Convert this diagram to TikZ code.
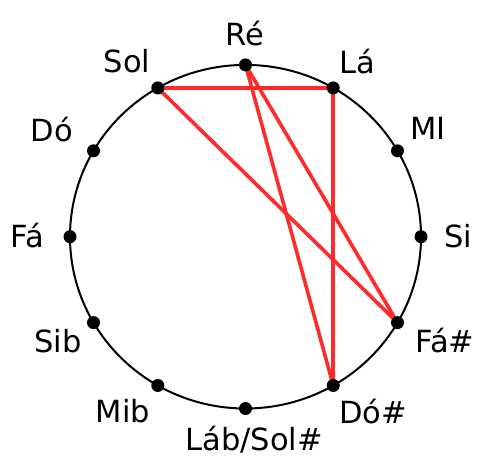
\documentclass[tikz,border=0pt]{standalone}
\usepackage{fontspec}
\setmainfont{DejaVu Sans}
\usetikzlibrary{calc}
\definecolor{chordred}{HTML}{FF2A2A}
\begin{document}
\begin{tikzpicture}[x=1pt,y=-1pt,
  dot/.style={circle,fill=black,inner sep=0pt,minimum size=13pt},
  lab/.style={font=\fontsize{30.5}{32}\selectfont,inner sep=0pt,anchor=center},
  chord/.style={draw=chordred,line width=3.6pt}]
\useasboundingbox (0,0) rectangle (478,457);
\coordinate (c) at (245.5,236.7);
\draw[line width=2pt] (c) ellipse [x radius=175.5,y radius=171.8];
% dots
\foreach \n/\a in {re/90,la/60,mi/30,si/0,fas/-30,dos/-60,lab/-90,mib/-120,sib/-150,fa/180,do/150,sol/120}{
  \coordinate (\n p) at ($(c)+({175.5*cos(\a)},{-171.8*sin(\a)})$);
}
\draw[chord] (solp) -- (lap);
\draw[chord] (solp) -- (fasp);
\draw[chord] (rep) -- (fasp);
\draw[chord] (rep) -- (dosp);
\draw[chord] (lap) -- (dosp);
\foreach \n in {re,la,mi,si,fas,dos,lab,mib,sib,fa,do,sol}{
  \node[dot] (\n) at (\n p) {};
}
\node[lab] (tre) at (245,34) {Ré};
\node[lab] (tla) at (357,62) {Lá};
\node[lab] (tmi) at (428,128) {MI};
\node[lab] (tsi) at (458,236) {Si};
\node[lab] (tfas) at (445,341) {Fá\#};
\node[lab] (tdos) at (373,412) {Dó\#};
\node[lab] (tlab) at (254,440) {Láb/Sol\#};
\node[lab] (tmib) at (123,411) {Mib};
\node[lab] (tsib) at (58,341) {Sib};
\node[lab] (tfa) at (27,236) {Fá};
\node[lab] (tdo) at (52,130) {Dó};
\node[lab] (tsol) at (127,61) {Sol};
\end{tikzpicture}
\end{document}
